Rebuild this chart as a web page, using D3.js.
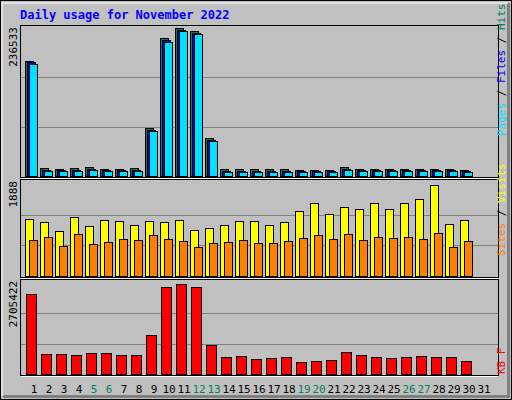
<!DOCTYPE html><html><head><script src="https://cdn.jsdelivr.net/npm/d3@7"></script>
<style>body{margin:0;background:#fff}</style></head><body><svg id="c" width="512" height="400"></svg>
<script>
const days = d3.range(1,32);
const weekend = [5,6,12,13,19,20,26,27];
const hits  = [183800,12800,11200,12800,14400,11200,11200,12800,76700,220600,236533,231700,60700,11200,11200,11200,11200,11200,9600,9600,9600,14400,11200,11200,11200,11200,11200,11200,11200,9600];
const files = [181400,9600,8800,9600,11200,8800,8800,9600,74300,217400,234100,229300,58300,8000,8000,8000,8000,8000,7200,7200,7200,11200,8800,8800,8800,8800,8800,8800,8800,7200];
const pages = [179000,8000,7200,8000,9600,7200,7200,8000,72000,214200,231700,226900,56000,6400,6400,6400,6400,6400,5600,5600,5600,9600,7200,7200,7200,7200,7200,7200,7200,5600];
const visits= [1177,1117,914,1218,1035,1157,1137,1056,1137,1117,1157,934,995,1056,1137,1137,1056,1117,1340,1502,1279,1421,1380,1502,1380,1502,1583,1868,1076,1157];
const sites = [731,792,609,853,650,690,751,731,832,751,711,589,670,690,731,670,670,711,771,832,751,853,731,792,771,792,751,873,589,711];
const kbytes= [2378000,595000,595000,565000,624000,624000,565000,565000,1159000,2587000,2676000,2587000,862000,505000,535000,446000,476000,505000,357000,387000,416000,654000,565000,505000,476000,505000,535000,505000,505000,387000];
const maxTop=236533, maxMid=1888, maxBot=2705422;

const svg=d3.select("#c");
const F="DejaVu Sans Mono, monospace";
svg.append("rect").attr("x",0).attr("y",0).attr("width",512).attr("height",400).attr("fill","#c0c0c0");
svg.append("rect").attr("x",0.5).attr("y",0.5).attr("width",511).attr("height",399).attr("fill","none").attr("stroke","#000");
svg.append("path").attr("d","M3,396.5H508.5V3").attr("fill","none").attr("stroke","#808080").attr("stroke-width",3);
svg.append("path").attr("d","M2,396V3H508").attr("fill","none").attr("stroke","#fff").attr("stroke-width",1);
svg.append("text").attr("x",20).attr("y",19).attr("fill","#0000ff").attr("font-family",F).attr("font-weight","bold").attr("font-size",12).text("Daily usage for November 2022");

const x=d3.scaleLinear().domain([1,31]).range([34,484]);
const panels=[{y0:25,y1:177},{y0:179,y1:277},{y0:279,y1:375}];
panels.forEach(p=>{
  svg.append("rect").attr("x",20.5).attr("y",p.y0+0.5).attr("width",478).attr("height",p.y1-p.y0).attr("fill","#c0c0c0").attr("stroke","#000");
  svg.append("line").attr("x1",21).attr("x2",498).attr("y1",p.y1+1.5).attr("y2",p.y1+1.5).attr("stroke","#fff");
});
function grid(y,n){ [1,2].forEach(k=>{const v=y.domain()[1]*k/3; svg.append("line").attr("x1",21).attr("x2",498).attr("y1",Math.round(y(v))+0.5).attr("y2",Math.round(y(v))+0.5).attr("stroke","#808080");});}
const yT=d3.scaleLinear().domain([0,maxTop]).range([176,28]);
const yM=d3.scaleLinear().domain([0,maxMid]).range([276,184]);
const yB=d3.scaleLinear().domain([0,maxBot]).range([374,283]);
grid(yT);grid(yM);grid(yB);

function bars(data,y,off,w,color){
  svg.append("g").selectAll("rect").data(data).join("rect")
   .attr("x",(d,i)=>Math.round(x(i+1))+off+0.5).attr("y",d=>Math.round(y(d))+0.5)
   .attr("width",w).attr("height",d=>y(0)-Math.round(y(d))).attr("fill",color).attr("stroke","#000");
}
bars(hits,yT,-9,8,"#00805c");
bars(files,yT,-7,8,"#0000ff");
bars(pages,yT,-5,8,"#00e0ff");
bars(visits,yM,-9,8,"#ffff00");
bars(sites,yM,-5,8,"#ff8000");
bars(kbytes,yB,-8,10,"#ff0000");

svg.append("g").selectAll("text").data(days).join("text").attr("x",d=>x(d)).attr("y",393)
 .attr("text-anchor","middle").attr("font-family",F).attr("font-size",11)
 .attr("fill",d=>weekend.includes(d)?"#00805c":"#000").text(d=>d);

function leftLabel(y,t){svg.append("text").attr("transform",`translate(17,${y}) rotate(-90)`).attr("text-anchor","end").attr("font-family",F).attr("font-size",11).text(t);}
leftLabel(27,"236533");leftLabel(181,"1888");leftLabel(281,"2705422");

function rightLabel(yEnd,parts){const t=svg.append("text").attr("transform",`translate(505,${yEnd}) rotate(-90)`).attr("font-family",F).attr("font-size",11);
 parts.forEach(([s,c])=>t.append("tspan").attr("fill",c).text(s));}
rightLabel(136,[["Pages","#00e0ff"],[" / ","#000"],["Files","#0000ff"],[" / ","#000"],["Hits","#00805c"]]);
rightLabel(256,[["Sites","#ff8000"],[" / ","#000"],["Visits","#ffff00"]]);
rightLabel(374,[["KB F","#ff0000"]]);
</script></body></html>
